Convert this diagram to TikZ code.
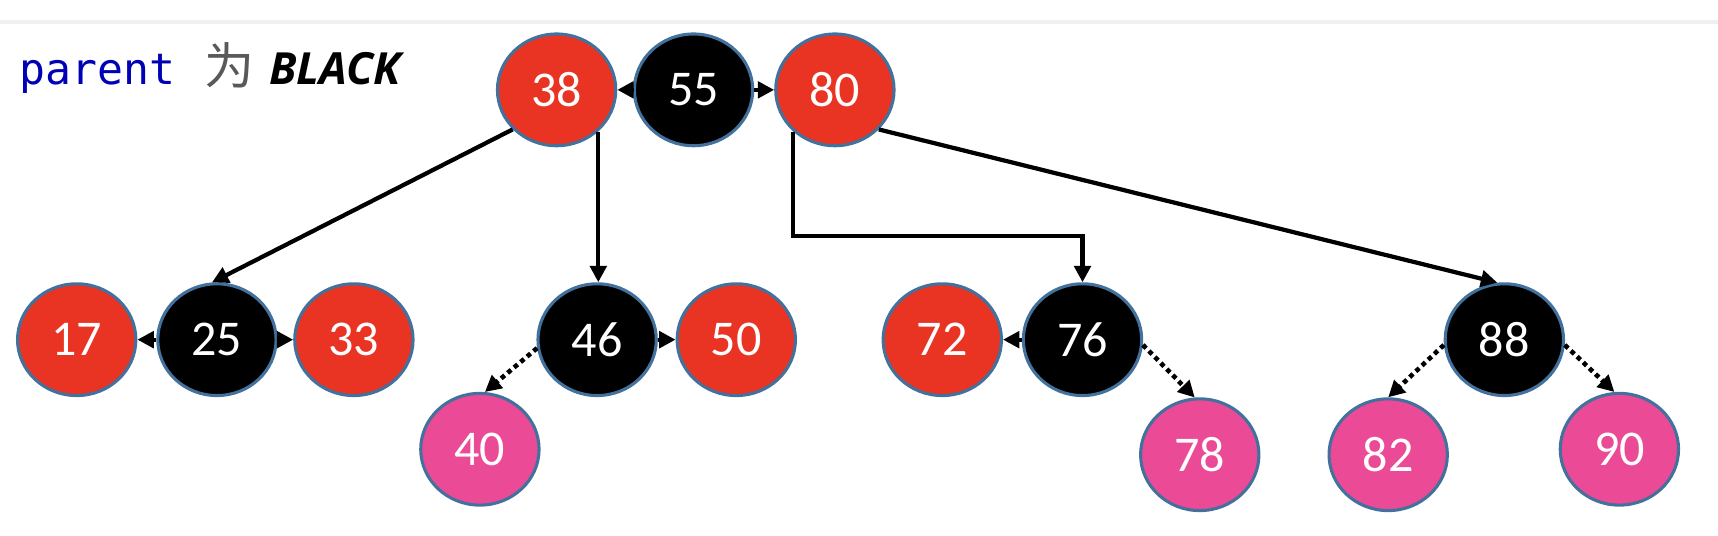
\documentclass[tikz,border=0pt]{standalone}
\usepackage{fontspec}
\setmainfont{Carlito}
\setmonofont{DejaVu Sans Mono}
\newfontfamily\cjkfont{Noto Sans CJK SC}
\newfontfamily\headfont{Open Sans}
\usetikzlibrary{shapes.geometric,arrows.meta}

\definecolor{rbred}{RGB}{233,51,35}
\definecolor{rbpink}{RGB}{234,74,150}
\definecolor{rbedge}{RGB}{65,113,156}
\definecolor{kwblue}{RGB}{0,0,180}

\tikzset{
	rbnode/.style = { ellipse, draw = rbedge, line width = 0.8pt, minimum width = 10.8mm, minimum height = 10.2mm, inner sep = 0pt, text = white, font = \fontsize{13}{15}\selectfont },
	rednode/.style = { rbnode, fill = rbred },
	blacknode/.style = { rbnode, fill = black },
	pinknode/.style = { rbnode, fill = rbpink },
	link/.style = { -{Triangle[length=1.5mm,width=1.5mm]}, line width = 1.1pt },
	dotlink/.style = { link, line width = 1.2pt, dash pattern = on 1.2pt off 1pt }
}

\begin{document}
\begin{tikzpicture}[x=0.1mm, y=-0.1mm]
		\useasboundingbox ( 0, 0 ) rectangle ( 1568, 489 );
		\draw [black!6, line width = 1.2pt] ( 0, 20 ) -- ( 1568, 20 );

		% 标题
		\node [anchor = base west, inner sep = 0pt] (title) at ( 17, 77 ) {\textcolor{kwblue}{\fontsize{11.2}{14}\selectfont\ttfamily parent}\hspace{2.7mm}\textcolor{black!65}{\fontsize{13}{15}\selectfont\cjkfont 为}\hspace{1.3mm}{\fontsize{11.5}{14}\selectfont\headfont\bfseries\itshape BLACK}};

		% 根节点
		\node [rednode] (n38) at ( 508, 82 ) {38};
		\node [blacknode] (n55) at ( 633, 82 ) {55};
		\node [rednode] (n80) at ( 762, 82 ) {80};

		% 第二层
		\node [rednode] (n17) at ( 70, 310 ) {17};
		\node [blacknode] (n25) at ( 198, 310 ) {25};
		\node [rednode] (n33) at ( 323, 310 ) {33};
		\node [blacknode] (n46) at ( 545, 310 ) {46};
		\node [rednode] (n50) at ( 672, 310 ) {50};
		\node [rednode] (n72) at ( 860, 310 ) {72};
		\node [blacknode] (n76) at ( 988, 310 ) {76};
		\node [blacknode] (n88) at ( 1373, 310 ) {88};

		% 新插入的节点
		\node [pinknode] (n40) at ( 438, 410 ) {40};
		\node [pinknode] (n78) at ( 1095, 415 ) {78};
		\node [pinknode] (n82) at ( 1267, 415 ) {82};
		\node [pinknode] (n90) at ( 1478, 410 ) {90};

		% 同一 B 树节点内的连线
		\draw [link] (n55.west) -- (n38.east);
		\draw [link] (n55.east) -- (n80.west);
		\draw [link] (n25.west) -- (n17.east);
		\draw [link] (n25.east) -- (n33.west);
		\draw [link] (n46.east) -- (n50.west);
		\draw [link] (n76.west) -- (n72.east);

		% 父子连线
		\draw [link] (n38.222) -- (n25.95);
		\draw [link] (n38.-45) -- (n38.-45 |- n46.north);
		\draw [link] (n80.-135) -- ++( 0, 95 ) -| (n76.north);
		\draw [link] (n80.-42) -- (n88.97);

		% 插入位置
		\draw [dotlink] (n46.188) -- (n40.85);
		\draw [dotlink] (n76.-5) -- (n78.95);
		\draw [dotlink] (n88.185) -- (n82.90);
		\draw [dotlink] (n88.-5) -- (n90.95);
\end{tikzpicture}
\end{document}
